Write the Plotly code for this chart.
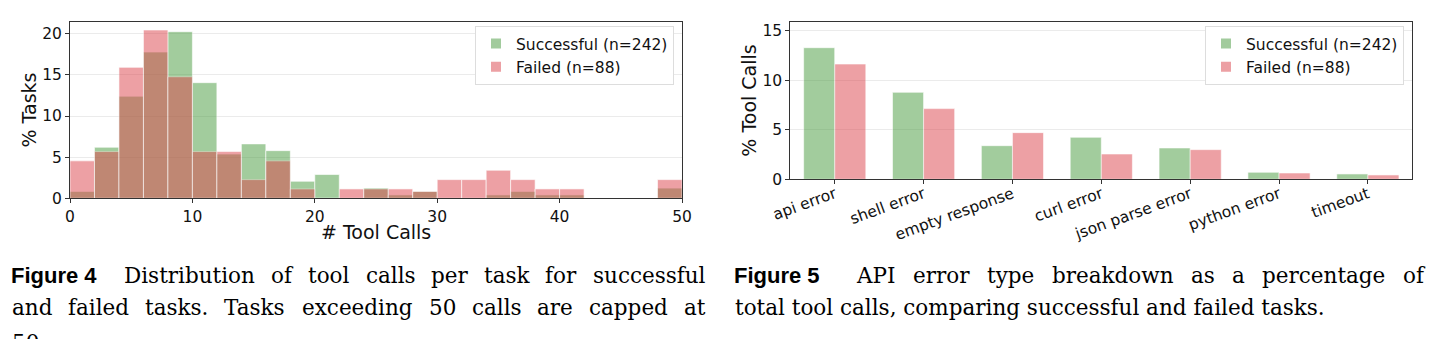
import plotly.graph_objects as go

# ---------------- data ----------------
bin_edges = [0, 2, 4, 6, 8, 10, 12, 14, 16, 18, 20, 22, 24, 26, 28, 30, 32, 34, 36, 38, 40, 42, 44, 46, 48, 50]
hist_success = [0.83, 6.20, 12.40, 17.77, 20.25, 14.05, 5.37, 6.61, 5.79, 2.07, 2.89, 0.0, 1.24, 0.41, 0.83,
                0.0, 0.0, 0.41, 0.83, 0.41, 0.41, 0.0, 0.0, 0.0, 1.24]
hist_failed = [4.55, 5.68, 15.91, 20.45, 14.77, 5.68, 5.68, 2.27, 4.55, 1.14, 0.0, 1.14, 1.14, 1.14, 0.83,
               2.27, 2.27, 3.41, 2.27, 1.14, 1.14, 0.0, 0.0, 0.0, 2.27]

error_types = ["api error", "shell error", "empty response", "curl error", "json parse error", "python error", "timeout"]
err_success = [13.31, 8.80, 3.40, 4.25, 3.17, 0.71, 0.54]
err_failed = [11.66, 7.15, 4.72, 2.56, 3.00, 0.64, 0.44]

label_success = "Successful (n=242)"
label_failed = "Failed (n=88)"

caption4_lines = ["Distribution of tool calls per task for successful",
                  "and failed tasks. Tasks exceeding 50 calls are capped at",
                  "50."]
caption5_lines = ["API error type breakdown as a percentage of",
                  "total tool calls, comparing successful and failed tasks."]

# ---------------- styles ----------------
W, H = 1438, 339
GREEN = "rgb(71,153,61)"
RED = "rgb(219,67,75)"
ALPHA = 0.5
AXC = "#333333"
GRIDC = "#ebebeb"
FONT = "DejaVu Sans"

centers = [(a + b) / 2 for a, b in zip(bin_edges[:-1], bin_edges[1:])]
widths = [b - a for a, b in zip(bin_edges[:-1], bin_edges[1:])]

fig = go.Figure()

# Histogram (left)
fig.add_trace(go.Bar(x=centers, y=hist_success, width=widths, name=label_success,
                     marker=dict(color=GREEN, line=dict(color="white", width=0.6)),
                     opacity=ALPHA, xaxis="x", yaxis="y", legend="legend"))
fig.add_trace(go.Bar(x=centers, y=hist_failed, width=widths, name=label_failed,
                     marker=dict(color=RED, line=dict(color="white", width=0.6)),
                     opacity=ALPHA, xaxis="x", yaxis="y", legend="legend"))

# Grouped bars (right)
fig.add_trace(go.Bar(x=error_types, y=err_success, width=0.35, offset=-0.35, name=label_success,
                     marker=dict(color=GREEN, line=dict(color="white", width=0.6)),
                     opacity=ALPHA, xaxis="x2", yaxis="y2", legend="legend2"))
fig.add_trace(go.Bar(x=error_types, y=err_failed, width=0.35, offset=0.0, name=label_failed,
                     marker=dict(color=RED, line=dict(color="white", width=0.6)),
                     opacity=ALPHA, xaxis="x2", yaxis="y2", legend="legend2"))

axis_common = dict(showline=True, linecolor=AXC, linewidth=1, mirror=True,
                   ticks="outside", ticklen=4, tickcolor=AXC, tickwidth=1, automargin=False,
                   tickfont=dict(family=FONT, size=15.5, color="#111"), zeroline=False)

legend_common = dict(bgcolor="white", bordercolor="#dddddd", borderwidth=1,
                     font=dict(family=FONT, size=15.5, color="#111"),
                     xanchor="right", yanchor="top", tracegroupgap=0, itemsizing="constant")

TITLE_FONT = dict(family=FONT, size=19, color="#111")

fig.update_layout(
    width=W, height=H,
    margin=dict(l=0, r=0, t=0, b=0, autoexpand=False),
    paper_bgcolor="white", plot_bgcolor="white",
    barmode="overlay",
    font=dict(family=FONT, color="#111"),
    xaxis=dict(domain=[70 / W, 682 / W], range=[0, 50], tickvals=[0, 10, 20, 30, 40, 50],
               showgrid=False, anchor="y",
               **axis_common),
    yaxis=dict(domain=[1 - 198.3 / H, 1 - 21.7 / H], range=[0, 21.46], tickvals=[0, 5, 10, 15, 20],
               showgrid=True, gridcolor=GRIDC, gridwidth=1, anchor="x",
               title=dict(text="% Tasks", font=TITLE_FONT, standoff=0),
               **axis_common),
    xaxis2=dict(domain=[790.3 / W, 1412.3 / W], range=[-0.5, 6.5], type="category",
                showgrid=False, anchor="y2", tickangle=-20, ticklabelstandoff=-5,
                **axis_common),
    yaxis2=dict(domain=[1 - 179.3 / H, 1 - 21.7 / H], range=[0, 15.94], tickvals=[0, 5, 10, 15],
                showgrid=True, gridcolor=GRIDC, gridwidth=1, anchor="x2",
                title=dict(text="% Tool Calls", font=TITLE_FONT, standoff=0),
                **axis_common),
    legend=dict(x=674 / W, y=1 - 26 / H, **legend_common),
    legend2=dict(x=1404 / W, y=1 - 26 / H, **legend_common),
)

# x-axis title of the histogram, centred under its axis
fig.add_annotation(text="# Tool Calls", xref="x domain", yref="paper", x=0.5, y=1 - 232 / H,
                   xanchor="center", yanchor="middle", showarrow=False, font=TITLE_FONT)

# ---------------- captions ----------------
SERIF = "DejaVu Serif"
CAP_SIZE = 21.5
# approximate DejaVu Serif advance widths (em) used to justify caption lines
CW = {' ': 0.318, 'a': 0.596, 'b': 0.640, 'c': 0.560, 'd': 0.640, 'e': 0.592, 'f': 0.370, 'g': 0.640,
      'h': 0.644, 'i': 0.320, 'j': 0.310, 'k': 0.606, 'l': 0.320, 'm': 0.948, 'n': 0.644, 'o': 0.602,
      'p': 0.640, 'q': 0.640, 'r': 0.478, 's': 0.513, 't': 0.402, 'u': 0.644, 'v': 0.565, 'w': 0.856,
      'x': 0.564, 'y': 0.565, 'z': 0.527, '.': 0.318, ',': 0.318, 'A': 0.722, 'P': 0.733, 'I': 0.395,
      'T': 0.674, 'D': 0.830}
def text_w(s, size):
    return sum(CW.get(ch, 0.636) for ch in s) * size

def ann(text, x, ycenter, family=SERIF, size=CAP_SIZE, bold=False):
    fig.add_annotation(text=("<b>%s</b>" % text) if bold else text, xref="paper", yref="paper",
                       x=x / W, y=1 - ycenter / H, xanchor="left", yanchor="middle",
                       showarrow=False, font=dict(family=family, size=size, color="#000"))

def justified(line, x0, x1, ycenter):
    words = line.split(" ")
    total = sum(text_w(w_, CAP_SIZE) for w_ in words)
    gap = (x1 - x0 - total) / (len(words) - 1)
    x = x0
    for w_ in words:
        ann(w_, x, ycenter)
        x += text_w(w_, CAP_SIZE) + gap

ann("Figure 4", 9, 275, family="Liberation Sans", size=22, bold=True)
justified(caption4_lines[0], 122, 703, 275)
justified(caption4_lines[1], 10, 703, 307)
ann(caption4_lines[2], 10, 342)

ann("Figure 5", 732, 275, family="Liberation Sans", size=22, bold=True)
justified(caption5_lines[0], 854, 1422, 275)
ann(caption5_lines[1], 733, 307)

fig.write_html("out.html")
